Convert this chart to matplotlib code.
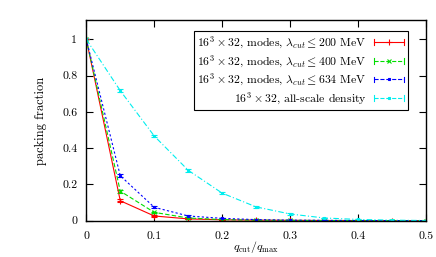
import matplotlib
matplotlib.use("Agg")
import matplotlib.pyplot as plt
from matplotlib.ticker import FormatStrFormatter, MultipleLocator
from matplotlib.legend_handler import HandlerBase
from matplotlib.lines import Line2D

plt.rcParams['font.family'] = ['cmr10', 'DejaVu Serif']
plt.rcParams['mathtext.fontset'] = 'cm'
plt.rcParams['axes.formatter.use_mathtext'] = True
plt.rcParams['font.size'] = 8.5

q = [0.0, 0.05, 0.1, 0.15, 0.2, 0.25, 0.3, 0.35, 0.4, 0.45, 0.5]

modes_200 = [1.0, 0.110, 0.026, 0.010, 0.005, 0.003, 0.002, 0.001, 0.001, 0.0005, 0.0003]
modes_200_err = [0.0, 0.008, 0.004, 0.002, 0.001, 0.001, 0.001, 0.0005, 0.0005, 0.0003, 0.0002]

modes_400 = [1.0, 0.163, 0.046, 0.015, 0.006, 0.003, 0.002, 0.001, 0.001, 0.0005, 0.0003]
modes_400_err = [0.0, 0.008, 0.004, 0.002, 0.001, 0.001, 0.001, 0.0005, 0.0005, 0.0003, 0.0002]

modes_634 = [1.0, 0.248, 0.074, 0.026, 0.013, 0.006, 0.003, 0.002, 0.001, 0.0005, 0.0003]
modes_634_err = [0.0, 0.008, 0.005, 0.003, 0.002, 0.001, 0.001, 0.0005, 0.0005, 0.0003, 0.0002]

allscale = [1.0, 0.717, 0.467, 0.278, 0.152, 0.076, 0.037, 0.015, 0.007, 0.003, 0.001]
allscale_err = [0.0, 0.008, 0.008, 0.008, 0.006, 0.004, 0.003, 0.002, 0.001, 0.001, 0.0005]

labels = [
    r"$16^3\times32$, modes, $\lambda_{cut}\leq200$ MeV",
    r"$16^3\times32$, modes, $\lambda_{cut}\leq400$ MeV",
    r"$16^3\times32$, modes, $\lambda_{cut}\leq634$ MeV",
    r"$16^3\times32$, all-scale density",
]


class GnuplotErrHandler(HandlerBase):
    def create_artists(self, legend, orig, xdescent, ydescent, width, height, fontsize, trans):
        col = orig.get_color()
        ls = orig.get_linestyle()
        y = height / 2 - ydescent
        x0, x1 = -xdescent, width - xdescent
        cap = height * 0.35
        arts = [
            Line2D([x0, x1], [y, y], color=col, linestyle=ls, linewidth=0.8),
            Line2D([x0, x0], [y - cap, y + cap], color=col, linewidth=0.8),
            Line2D([x1, x1], [y - cap, y + cap], color=col, linewidth=0.8),
            Line2D([(x0 + x1) / 2], [y], color=col, marker=orig.get_marker(),
                   markersize=orig.get_markersize(), markeredgewidth=0.8, linestyle='none'),
        ]
        for a in arts:
            a.set_transform(trans)
        return arts


fig = plt.figure(figsize=(4.36, 2.57), dpi=100)
ax = fig.add_axes([86.3/436, 1 - 220.7/257, (426 - 86.3)/436, (220.7 - 20.3)/257])

series = [
    (modes_200, modes_200_err, '#ff0000', '-', '+', 4.5),
    (modes_400, modes_400_err, '#00dd00', (0, (4, 2)), 'x', 3),
    (modes_634, modes_634_err, '#0000ff', (0, (2, 2)), 's', 2),
    (allscale, allscale_err, '#00eeee', (0, (5, 2, 1, 2)), 's', 2),
]
handles = []
for (vals, errs, col, ls, mk, ms), lab in zip(series, labels):
    ax.errorbar(q, vals, yerr=errs, color=col, linestyle=ls, marker=mk,
                markersize=ms, linewidth=0.8, elinewidth=0.8, capsize=2,
                markeredgewidth=0.8)
    handles.append(Line2D([], [], color=col, linestyle=ls, marker=mk, markersize=ms, label=lab))

ax.set_xlim(0, 0.5)
ax.set_ylim(0, 1.105)
ax.xaxis.set_major_locator(MultipleLocator(0.1))
ax.yaxis.set_major_locator(MultipleLocator(0.2))
ax.xaxis.set_major_formatter(FormatStrFormatter('%g'))
ax.yaxis.set_major_formatter(FormatStrFormatter('%g'))
ax.tick_params(direction='in', top=True, right=True, length=5, width=0.8,
               labelsize=8.5)
ax.tick_params(axis='x', pad=8)
ax.tick_params(axis='y', pad=6.5)
for s in ax.spines.values():
    s.set_linewidth(1.0)

ax.set_xlabel(r"$q_{\rm cut}/q_{\rm max}$", fontsize=8.5, labelpad=-1.5)
ax.set_ylabel("packing fraction", fontsize=9, labelpad=11)

leg = ax.legend(handles=handles, loc='upper right', bbox_to_anchor=(0.964, 0.975),
                markerfirst=False, fancybox=False, edgecolor='black', framealpha=1,
                fontsize=8.5, borderpad=0.3, labelspacing=0.2, handlelength=2.6,
                handletextpad=0.6, handler_map={Line2D: GnuplotErrHandler()})
leg.get_frame().set_linewidth(0.8)

fig.savefig("out.png", dpi=100)
